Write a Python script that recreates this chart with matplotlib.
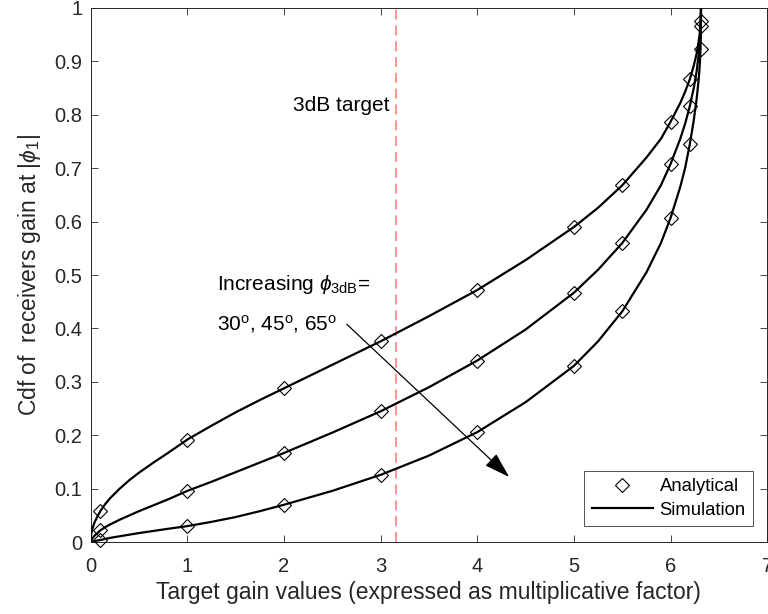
import matplotlib
matplotlib.use("Agg")
import matplotlib.pyplot as plt
from matplotlib.lines import Line2D

plt.rcParams['font.family'] = ['Liberation Sans', 'DejaVu Sans']
plt.rcParams['mathtext.fontset'] = 'custom'
plt.rcParams['mathtext.rm'] = 'Liberation Sans'
plt.rcParams['mathtext.it'] = 'Liberation Sans:italic'
plt.rcParams['mathtext.fallback'] = 'cm'

# Analytical markers
marker_x = [0.1, 1, 2, 3, 4, 5, 5.5, 6, 6.2, 6.31]
analytical_30 = [0.058, 0.192, 0.288, 0.376, 0.472, 0.59, 0.668, 0.787, 0.867, 0.976]
analytical_45 = [0.022, 0.096, 0.167, 0.245, 0.34, 0.467, 0.56, 0.708, 0.817, 0.966]
analytical_65 = [0.004, 0.03, 0.07, 0.126, 0.206, 0.33, 0.432, 0.607, 0.746, 0.924]

# Simulation curves
sim_x = [0, 0.005, 0.01, 0.02, 0.04, 0.07, 0.1, 0.15, 0.2, 0.3, 0.4, 0.5, 0.65, 0.8,
         1, 1.25, 1.5, 1.75, 2, 2.5, 3, 3.5, 4, 4.5, 5, 5.25, 5.5, 5.75, 5.9, 6,
         6.1, 6.15, 6.2, 6.24, 6.27, 6.29, 6.3, 6.305, 6.31, 6.313, 6.315]
sim_30 = [0, 0.013, 0.019, 0.026, 0.037, 0.048, 0.058, 0.071, 0.082, 0.1, 0.116, 0.13,
          0.149, 0.167, 0.192, 0.218, 0.243, 0.266, 0.288, 0.332, 0.376, 0.423, 0.472,
          0.528, 0.59, 0.626, 0.668, 0.72, 0.755, 0.787, 0.822, 0.843, 0.867, 0.892,
          0.915, 0.937, 0.95, 0.96, 0.976, 0.988, 1.0]
sim_45 = [0, 0.003, 0.004, 0.0075, 0.012, 0.017, 0.022, 0.028, 0.033, 0.042, 0.05,
          0.058, 0.069, 0.08, 0.096, 0.113, 0.131, 0.149, 0.167, 0.205, 0.245, 0.29,
          0.34, 0.398, 0.467, 0.51, 0.56, 0.622, 0.668, 0.708, 0.755, 0.783, 0.817,
          0.85, 0.882, 0.912, 0.93, 0.945, 0.966, 0.982, 1.0]
sim_65 = [0, 0.0003, 0.0006, 0.001, 0.002, 0.003, 0.004, 0.006, 0.008, 0.011, 0.014,
          0.017, 0.021, 0.025, 0.03, 0.038, 0.047, 0.058, 0.07, 0.096, 0.126, 0.162,
          0.206, 0.262, 0.33, 0.376, 0.432, 0.505, 0.56, 0.607, 0.665, 0.7, 0.746,
          0.79, 0.83, 0.865, 0.888, 0.903, 0.924, 0.95, 1.0]

target_3db = 3.162

xticks = [0, 1, 2, 3, 4, 5, 6, 7]
yticks = [0, 0.1, 0.2, 0.3, 0.4, 0.5, 0.6, 0.7, 0.8, 0.9, 1]
ytick_labels = ['0', '0.1', '0.2', '0.3', '0.4', '0.5', '0.6', '0.7', '0.8', '0.9', '1']

fig = plt.figure(figsize=(7.68, 6.14), dpi=100)
ax = fig.add_axes([0.118, 0.117, 0.881, 0.870])

axcol = '#262626'
for sim in (sim_30, sim_45, sim_65):
    ax.plot(sim_x, sim, color='black', lw=1.6, zorder=3, solid_joinstyle='round')
for an in (analytical_30, analytical_45, analytical_65):
    ax.plot(marker_x, an, linestyle='none', marker='D', markersize=7.2,
            markerfacecolor='none', markeredgecolor='black', markeredgewidth=0.8,
            clip_on=False, zorder=4)

ax.axvline(target_3db, color='#ff7f7f', lw=1.2, ls=(0, (6, 3.5)), zorder=2)

tfs = 15
ax.text(2.09, 0.818, '3dB target', fontsize=tfs, va='center', ha='left', color='black')
ax.text(1.31, 0.483, r'Increasing $\phi_{\mathrm{3dB}}$=', fontsize=tfs, va='center',
        ha='left', color='black')
ax.text(1.31, 0.408, r'30$^{\mathrm{o}}$, 45$^{\mathrm{o}}$, 65$^{\mathrm{o}}$',
        fontsize=tfs, va='center', ha='left', color='black')
ax.annotate('', xy=(4.33, 0.122), xytext=(2.65, 0.408),
            arrowprops=dict(arrowstyle='-|>,head_length=1.6,head_width=0.5',
                            color='black', lw=0.9, shrinkA=0, shrinkB=0))

ax.set_xlim(0, 7)
ax.set_ylim(0, 1)
ax.set_xticks(xticks)
ax.set_xticklabels([str(t) for t in xticks])
ax.set_yticks(yticks)
ax.set_yticklabels(ytick_labels)
ax.tick_params(direction='in', length=5, width=0.6, colors=axcol, labelsize=14.5,
               top=True, right=True)
ax.tick_params(axis='y', pad=6)
ax.tick_params(axis='x', pad=11)
for s in ax.spines.values():
    s.set_color(axcol)
    s.set_linewidth(0.7)

ax.set_xlabel('Target gain values (expressed as multiplicative factor)', fontsize=16.5,
              color=axcol, labelpad=3)
ax.set_ylabel(r'Cdf of  receivers gain at $|\phi_1|$', fontsize=16.5, color=axcol,
              labelpad=8)

h1 = Line2D([], [], linestyle='none', marker='D', markersize=7.2, markerfacecolor='none',
            markeredgecolor='black', markeredgewidth=0.8)
h2 = Line2D([], [], color='black', lw=1.6)
leg = ax.legend([h1, h2], ['Analytical', 'Simulation'], loc='lower right',
                bbox_to_anchor=(0.979, 0.03), borderaxespad=0, fontsize=13.3,
                frameon=True, fancybox=False, handlelength=3.35, handletextpad=0.33,
                borderpad=0.4, labelspacing=0.35)
leg.get_frame().set_edgecolor(axcol)
leg.get_frame().set_linewidth(0.7)

fig.savefig('out.png', dpi=100)
